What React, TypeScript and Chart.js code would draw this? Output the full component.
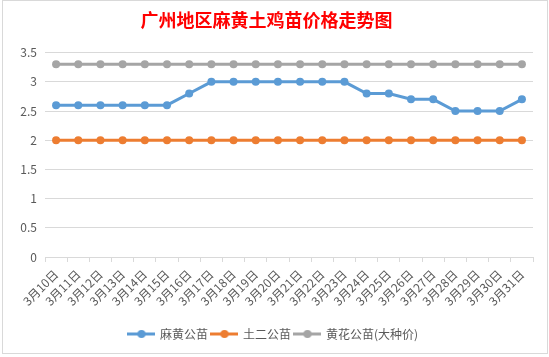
import React, { useEffect, useRef } from "react";
import { Chart, registerables } from "chart.js";

Chart.register(...registerables);

const TITLE = "广州地区麻黄土鸡苗价格走势图";
const categories = [
  "3月10日", "3月11日", "3月12日", "3月13日", "3月14日", "3月15日", "3月16日", "3月17日",
  "3月18日", "3月19日", "3月20日", "3月21日", "3月22日", "3月23日", "3月24日", "3月25日",
  "3月26日", "3月27日", "3月28日", "3月29日", "3月30日", "3月31日",
];
const mahuangValues = [2.6, 2.6, 2.6, 2.6, 2.6, 2.6, 2.8, 3.0, 3.0, 3.0, 3.0, 3.0, 3.0, 3.0, 2.8, 2.8, 2.7, 2.7, 2.5, 2.5, 2.5, 2.7];
const tuerValues = [2, 2, 2, 2, 2, 2, 2, 2, 2, 2, 2, 2, 2, 2, 2, 2, 2, 2, 2, 2, 2, 2];
const huangHuaValues = [3.3, 3.3, 3.3, 3.3, 3.3, 3.3, 3.3, 3.3, 3.3, 3.3, 3.3, 3.3, 3.3, 3.3, 3.3, 3.3, 3.3, 3.3, 3.3, 3.3, 3.3, 3.3];
const seriesNames = ["麻黄公苗", "土二公苗", "黄花公苗(大种价)"];
const seriesColors = ["#5b9bd5", "#ed7d31", "#a5a5a5"];

const FONT = "'Noto Sans CJK SC', 'Noto Sans', sans-serif";

function legendSymbol(color: string): HTMLCanvasElement {
  const c = document.createElement("canvas");
  c.width = 28;
  c.height = 10;
  const ctx = c.getContext("2d")!;
  ctx.strokeStyle = color;
  ctx.lineWidth = 3;
  ctx.beginPath();
  ctx.moveTo(0, 5);
  ctx.lineTo(28, 5);
  ctx.stroke();
  ctx.fillStyle = color;
  ctx.beginPath();
  ctx.arc(14, 5, 4, 0, Math.PI * 2);
  ctx.fill();
  return c;
}

const borderPlugin = {
  id: "frame",
  beforeDraw(chart: any) {
    const ctx = chart.ctx;
    ctx.save();
    ctx.fillStyle = "#ffffff";
    ctx.fillRect(0, 0, chart.width, chart.height);
    ctx.strokeStyle = "#d9d9d9";
    ctx.lineWidth = 1;
    ctx.strokeRect(2.5, 0.5, 545, 353);
    ctx.restore();
  },
};

const legendShift = {
  id: "legendShift",
  afterLayout(chart: any) {
    if (chart.legend) {
      chart.legend.left += 7;
      chart.legend.right += 7;
    }
  },
};

export default function App() {
  const ref = useRef<HTMLCanvasElement | null>(null);
  useEffect(() => {
    document.body.style.margin = "0";
    const symbols = seriesColors.map(legendSymbol);
    const values = [mahuangValues, tuerValues, huangHuaValues];
    const chart = new Chart(ref.current!, {
      type: "line",
      data: {
        labels: categories,
        datasets: seriesNames.map((name, i) => ({
          label: name,
          data: values[i],
          borderColor: seriesColors[i],
          backgroundColor: seriesColors[i],
          borderWidth: 3,
          pointRadius: 4,
          pointHoverRadius: 4,
          pointBorderWidth: 0,
          tension: 0,
        })),
      },
      options: {
        animation: false,
        responsive: false,
        events: [],
        layout: { padding: { left: 0, right: 16, top: 0, bottom: 7 } },
        plugins: {
          title: {
            display: true,
            text: TITLE,
            color: "#ff0000",
            font: { family: FONT, size: 18, weight: "bold" },
            padding: { top: 9, bottom: 22 },
          },
          legend: {
            position: "bottom",
            labels: {
              usePointStyle: true,
              pointStyleWidth: 25,
              color: "#595959",
              font: { family: FONT, size: 12 },
              padding: 4,
              generateLabels: () =>
                seriesNames.map((n, i) => ({
                  text: n,
                  pointStyle: symbols[i],
                  fillStyle: seriesColors[i],
                  strokeStyle: seriesColors[i],
                  lineWidth: 0,
                  hidden: false,
                  datasetIndex: i,
                  fontColor: "#595959",
                })),
            },
          },
          tooltip: { enabled: false },
        },
        scales: {
          x: {
            offset: true,
            grid: {
              offset: true,
              drawOnChartArea: false,
              drawTicks: true,
              tickLength: 5,
              color: "#d9d9d9",
            },
            border: { color: "#d9d9d9" },
            ticks: {
              color: "#595959",
              font: { family: FONT, size: 12 },
              minRotation: 45,
              maxRotation: 45,
              autoSkip: false,
              padding: 5,
            },
            afterFit: (s: any) => {
              s.height = 67;
            },
          },
          y: {
            min: 0,
            max: 3.5,
            ticks: {
              stepSize: 0.5,
              color: "#595959",
              font: { family: FONT, size: 12 },
              padding: 8,
              callback: (v: any) => String(v),
            },
            grid: { color: "#d9d9d9", drawTicks: false },
            border: { display: false },
            afterFit: (s: any) => {
              s.width = 45;
            },
          },
        },
      },
      plugins: [borderPlugin, legendShift],
    });
    return () => chart.destroy();
  }, []);
  return (
    <div style={{ position: "fixed", left: 0, top: 0, width: 549, height: 357 }}>
      <canvas ref={ref} width={549} height={357} style={{ width: 549, height: 357 }} />
    </div>
  );
}
